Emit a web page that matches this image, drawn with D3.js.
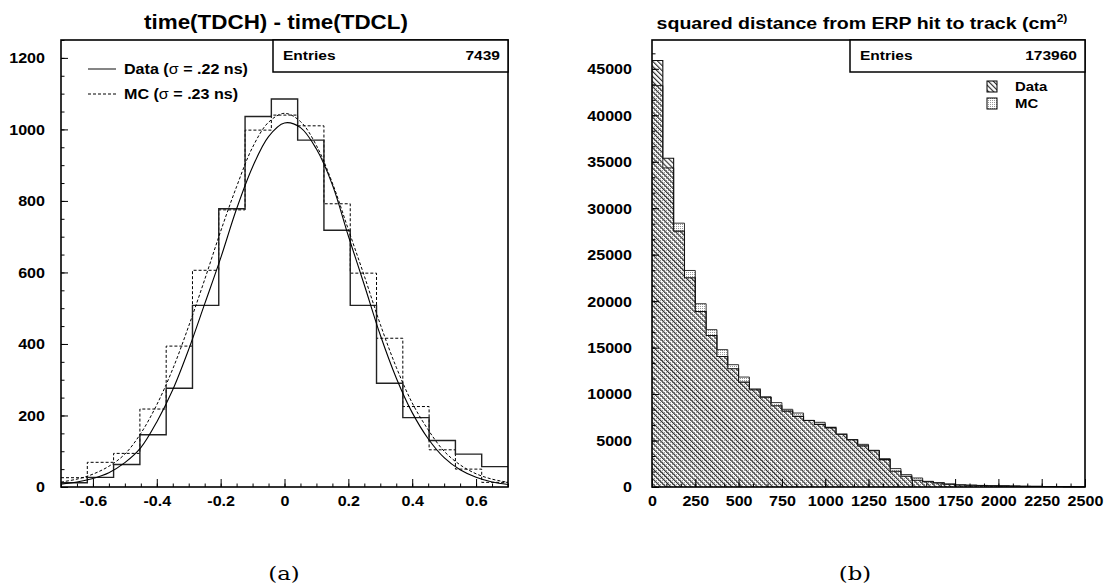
<!DOCTYPE html>
<html>
<head>
<meta charset="utf-8">
<script src="https://cdn.jsdelivr.net/npm/d3@7"></script>
<style>
  body { margin: 0; background: #fff; }
  svg { display: block; }
  text { font-family: "Liberation Sans", Arial, sans-serif; font-weight: bold; fill: #000; }
</style>
</head>
<body>
<div id="chart"></div>
<script>
// ---- panel (a): time(TDCH) - time(TDCL) ----
var leftEdges = [-0.7, -0.6176, -0.5353, -0.4529, -0.3706, -0.2882, -0.2059, -0.1235, -0.0412,
                 0.0412, 0.1235, 0.2059, 0.2882, 0.3706, 0.4529, 0.5353, 0.6176, 0.7];
var leftData = [12, 27, 63, 146, 276, 508, 778, 1036, 1085, 970, 718, 508, 290, 194, 130, 92, 57];
var leftMC   = [26, 69, 94, 218, 394, 606, 775, 998, 1040, 1010, 792, 598, 416, 225, 104, 50, 13];

// fitted curves
var fitX    = [-0.7, -0.65, -0.6, -0.55, -0.5, -0.45, -0.4, -0.35, -0.3, -0.25, -0.2, -0.15, -0.1, -0.05, 0,
               0.05, 0.1, 0.15, 0.2, 0.25, 0.3, 0.35, 0.4, 0.45, 0.5, 0.55, 0.6, 0.65, 0.7];
var fitData = [8, 14, 24, 40, 68, 110, 182, 272, 385, 512, 640, 778, 895, 980, 1018,
               1005, 945, 845, 702, 565, 425, 305, 208, 135, 82, 48, 27, 14, 7];
var fitMC   = [14, 22, 36, 58, 92, 150, 230, 330, 450, 580, 715, 840, 950, 1020, 1045,
               1022, 955, 850, 720, 590, 455, 335, 235, 160, 100, 62, 37, 22, 13];

var leftXTicks = [-0.6, -0.4, -0.2, 0, 0.2, 0.4, 0.6];
var leftYTicks = [0, 200, 400, 600, 800, 1000, 1200];
var leftEntries = 7439;

// ---- panel (b): squared distance from ERP hit to track ----
var rightEdges = d3.range(0, 2500.1, 62.5);
var rightData = [45900, 35380, 27530, 22520, 18890, 16310, 14050, 12730, 11290, 10540,
                 9650, 8750, 8170, 7600, 7150, 6740, 6420, 5700, 5080, 4420,
                 3900, 2950, 1690, 1150, 720, 560, 430, 300, 220, 190,
                 160, 140, 120, 100, 80, 70, 60, 50, 40, 30];
var rightMC   = [43200, 34340, 28390, 23300, 19720, 16930, 14780, 13160, 11830, 10450,
                 9700, 9080, 8360, 7960, 7170, 6960, 6350, 5650, 5100, 4590,
                 3950, 3050, 1980, 1330, 970, 610, 470, 330, 240, 200,
                 170, 140, 120, 100, 80, 60, 50, 40, 30, 20];
var rightXTicks = [0, 250, 500, 750, 1000, 1250, 1500, 1750, 2000, 2250, 2500];
var rightYTicks = [0, 5000, 10000, 15000, 20000, 25000, 30000, 35000, 40000, 45000];
var rightEntries = 173960;

var W = 1104, H = 587;
var SX = 1.15; // the original lettering is a little wide

var svg = d3.select('#chart').append('svg').attr('width', W).attr('height', H);
var defs = svg.append('defs');

var hatch = defs.append('pattern').attr('id', 'hatch').attr('patternUnits', 'userSpaceOnUse')
    .attr('width', 3.6).attr('height', 3.6).attr('patternTransform', 'rotate(-45)');
hatch.append('line').attr('x1', 0.6).attr('y1', 0).attr('x2', 0.6).attr('y2', 3.6)
    .attr('stroke', '#222').attr('stroke-width', 1.1);

var dots = defs.append('pattern').attr('id', 'dots').attr('patternUnits', 'userSpaceOnUse')
    .attr('width', 2).attr('height', 2);
dots.append('rect').attr('width', 2).attr('height', 2).attr('fill', '#fff');
dots.append('rect').attr('width', 1).attr('height', 1).attr('fill', '#999');

function label(g, x, y, s, size, anchor) {
    return g.append('text')
        .attr('transform', 'translate(' + x + ',' + y + ') scale(' + SX + ',1)')
        .attr('text-anchor', anchor || 'start')
        .style('font-size', size + 'px')
        .text(s);
}

function axes(g, box, x, y, xMajor, xMinor, yMajor, yMinor, labelPad) {
    var fix = function(sel) {
        sel.selectAll('.domain').remove();
        sel.selectAll('line').attr('stroke', '#000').attr('stroke-width', 1);
    };
    var gx = g.append('g').attr('transform', 'translate(0,' + box.y1 + ')');
    gx.call(d3.axisBottom(x).tickValues(xMinor).tickSize(-3.5).tickFormat('')).call(fix);
    var gx2 = g.append('g').attr('transform', 'translate(0,' + box.y1 + ')');
    gx2.call(d3.axisBottom(x).tickValues(xMajor).tickSize(-8)
        .tickFormat(function(d) { return String(+d.toFixed(2)); }))
        .call(fix);
    gx2.selectAll('text').attr('dy', null).attr('y', 19)
        .attr('transform', 'scale(' + SX + ',1)').style('font-size', '14px');

    var gy = g.append('g').attr('transform', 'translate(' + box.x0 + ',0)');
    gy.call(d3.axisLeft(y).tickValues(yMinor).tickSize(-3.5).tickFormat('')).call(fix);
    var gy2 = g.append('g').attr('transform', 'translate(' + box.x0 + ',0)');
    gy2.call(d3.axisLeft(y).tickValues(yMajor).tickSize(-7).tickFormat(d3.format('d'))).call(fix);
    gy2.selectAll('text').attr('x', -labelPad / SX).attr('dy', '0.35em')
        .attr('transform', 'scale(' + SX + ',1)').style('font-size', '14px');
}

function entriesBox(g, box, n) {
    g.append('rect').attr('x', box.x1 - 235).attr('y', box.y0).attr('width', 235).attr('height', 32)
        .attr('fill', '#fff').attr('stroke', '#000').attr('stroke-width', 1.5);
    label(g, box.x1 - 225, box.y0 + 20, 'Entries', 13.5);
    label(g, box.x1 - 8, box.y0 + 20, String(n), 13.5, 'end');
}

function stepPts(edges, vals) {
    var p = vals.map(function(v, i) { return [edges[i], v]; });
    p.push([edges[edges.length - 1], vals[vals.length - 1]]);
    return p;
}

// ================= panel (a) =================
var L = {x0: 61, x1: 508, y0: 40, y1: 487};
var gl = svg.append('g');
var xl = d3.scaleLinear().domain([-0.7, 0.7]).range([L.x0, L.x1]);
var yl = d3.scaleLinear().domain([0, 1250]).range([L.y1, L.y0]);

var stepL = d3.line().x(function(d) { return xl(d[0]); }).y(function(d) { return yl(d[1]); })
    .curve(d3.curveStepAfter);

gl.append('path').attr('d', stepL(stepPts(leftEdges, leftMC))).attr('fill', 'none')
    .attr('stroke', '#000').attr('stroke-width', 1).attr('stroke-dasharray', '3,2');
gl.append('path').attr('d', stepL(stepPts(leftEdges, leftData))).attr('fill', 'none')
    .attr('stroke', '#222').attr('stroke-width', 1.4);

var fitLine = function(vals) {
    return d3.line().x(function(d, i) { return xl(fitX[i]); }).y(function(d) { return yl(d); })
        .curve(d3.curveCatmullRom.alpha(0.5))(vals);
};
gl.append('path').attr('d', fitLine(fitMC)).attr('fill', 'none')
    .attr('stroke', '#000').attr('stroke-width', 1).attr('stroke-dasharray', '3,2');
gl.append('path').attr('d', fitLine(fitData)).attr('fill', 'none')
    .attr('stroke', '#000').attr('stroke-width', 1.1);

axes(gl, L, xl, yl, leftXTicks, d3.range(-0.7, 0.7001, 0.05), leftYTicks, d3.range(0, 1250.1, 50), 16);
gl.append('rect').attr('x', L.x0).attr('y', L.y0).attr('width', L.x1 - L.x0).attr('height', L.y1 - L.y0)
    .attr('fill', 'none').attr('stroke', '#000').attr('stroke-width', 1.6);
entriesBox(gl, L, leftEntries);

// legend (a)
gl.append('line').attr('x1', 88).attr('x2', 116).attr('y1', 69).attr('y2', 69)
    .attr('stroke', '#333').attr('stroke-width', 1.2);
gl.append('line').attr('x1', 88).attr('x2', 116).attr('y1', 94).attr('y2', 94)
    .attr('stroke', '#000').attr('stroke-width', 1).attr('stroke-dasharray', '3,2');
var t1 = label(gl, 124, 74, 'Data (', 14);
t1.append('tspan').style('font-weight', 'normal').text('σ');
t1.append('tspan').text(' = .22 ns)');
var t2 = label(gl, 124, 99, 'MC (', 14);
t2.append('tspan').style('font-weight', 'normal').text('σ');
t2.append('tspan').text(' = .23 ns)');

label(gl, 276, 29, 'time(TDCH) - time(TDCL)', 19.5, 'middle');

// ================= panel (b) =================
var R = {x0: 652, x1: 1085, y0: 40, y1: 487};
var gr = svg.append('g');
var xr = d3.scaleLinear().domain([0, 2500]).range([R.x0, R.x1]);
var yr = d3.scaleLinear().domain([0, 48100]).range([R.y1, R.y0]);

var areaR = d3.area().x(function(d) { return xr(d[0]); }).y0(R.y1).y1(function(d) { return yr(d[1]); })
    .curve(d3.curveStepAfter);
var lineR = d3.line().x(function(d) { return xr(d[0]); }).y(function(d) { return yr(d[1]); })
    .curve(d3.curveStepAfter);

gr.append('path').attr('d', areaR(stepPts(rightEdges, rightMC))).attr('fill', 'url(#dots)');
gr.append('path').attr('d', lineR(stepPts(rightEdges, rightMC))).attr('fill', 'none')
    .attr('stroke', '#333').attr('stroke-width', 1);
gr.append('path').attr('d', areaR(stepPts(rightEdges, rightData))).attr('fill', 'url(#hatch)');
gr.append('path').attr('d', lineR(stepPts(rightEdges, rightData))).attr('fill', 'none')
    .attr('stroke', '#111').attr('stroke-width', 1.1);

axes(gr, R, xr, yr, rightXTicks, d3.range(0, 2500.1, 250 / 3), rightYTicks, d3.range(0, 48100, 5000 / 3), 20);
gr.append('rect').attr('x', R.x0).attr('y', R.y0).attr('width', R.x1 - R.x0).attr('height', R.y1 - R.y0)
    .attr('fill', 'none').attr('stroke', '#000').attr('stroke-width', 1.6);
entriesBox(gr, R, rightEntries);

// legend (b)
gr.append('rect').attr('x', 987).attr('y', 81).attr('width', 10).attr('height', 11)
    .attr('fill', 'url(#hatch)').attr('stroke', '#000').attr('stroke-width', 1);
gr.append('rect').attr('x', 987).attr('y', 98).attr('width', 10).attr('height', 11)
    .attr('fill', 'url(#dots)').attr('stroke', '#000').attr('stroke-width', 1);
label(gr, 1015, 91, 'Data', 13);
label(gr, 1015, 108, 'MC', 13);

var tt = label(gr, 862, 29, 'squared distance from ERP hit to track (cm', 17, 'middle');
tt.append('tspan').attr('dy', -7).style('font-size', '10.5px').text('2)');

// captions
[['(a)', 284], ['(b)', 855]].forEach(function(c) {
    svg.append('text')
        .attr('transform', 'translate(' + c[1] + ',580) scale(1.2,1)')
        .attr('text-anchor', 'middle')
        .style('font-family', '"DejaVu Serif", "Liberation Serif", serif')
        .style('font-weight', 'normal').style('font-size', '19px')
        .text(c[0]);
});
</script>
</body>
</html>
